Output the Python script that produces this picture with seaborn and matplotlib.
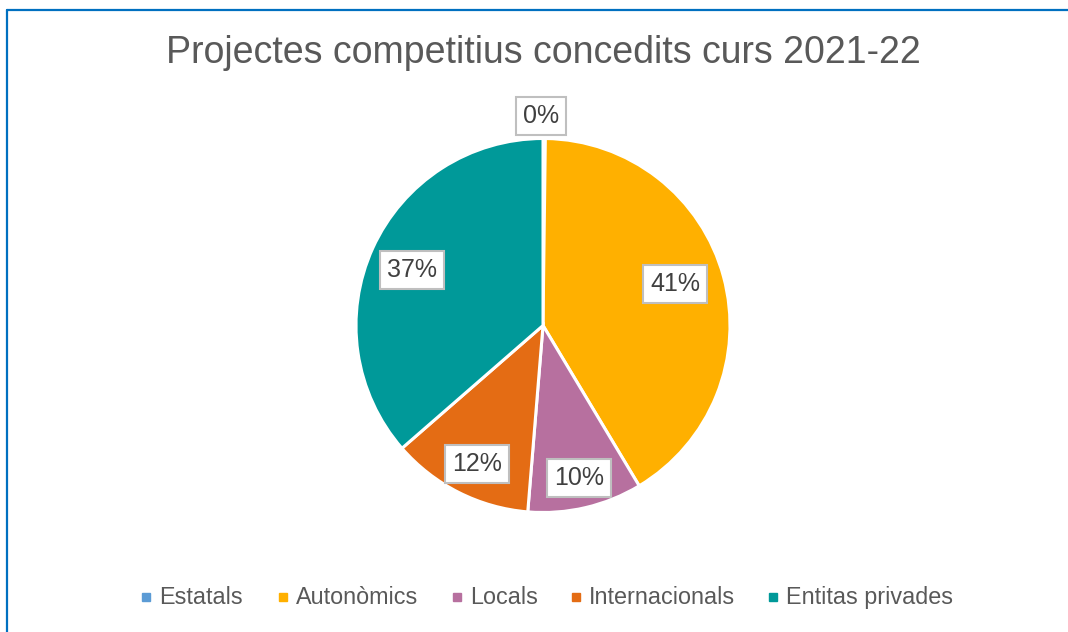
import numpy as np
import seaborn as sns
import matplotlib
matplotlib.use("Agg")
import matplotlib.pyplot as plt
from matplotlib.lines import Line2D

# data (percent of projects)
categories = ["Estatals", "Autonòmics", "Locals", "Internacionals", "Entitas privades"]
values = [0.2, 41.2, 9.9, 12.3, 36.4]
labels = ["0%", "41%", "10%", "12%", "37%"]

colors = ["#5B9BD5", "#FFB000", "#B7709F", "#E46C14", "#009999"]

sns.set_theme(style="white")
plt.rcParams['font.family'] = ['Liberation Sans', 'DejaVu Sans']

W, H = 1068, 632
fig = plt.figure(figsize=(W / 100, H / 100), dpi=100)

# pie axes placed in pixels: centre (543, 325), radius 187
cx, cy, r = 543, 325.5, 187
ax = fig.add_axes([(cx - r) / W, (H - cy - r) / H, 2 * r / W, 2 * r / H])

wedges, _ = ax.pie(values, colors=colors, startangle=90, counterclock=False,
                   radius=1, wedgeprops=dict(edgecolor="white", linewidth=2.2))
ax.set_xlim(-1, 1)
ax.set_ylim(-1, 1)
ax.set_aspect("equal")
ax.axis("off")

# data labels, Excel "best fit"-ish: distance from centre and small angle nudge
dists = [1.12, 0.74, 0.84, 0.82, 0.76]
nudge = [1.0, 2.5, 0.0, 1.5, 1.5]
for w, lab, d, n in zip(wedges, labels, dists, nudge):
    ang = np.deg2rad((w.theta1 + w.theta2) / 2 + n)
    ax.text(d * np.cos(ang), d * np.sin(ang), lab, ha="center", va="center",
            fontsize=18, color="#404040", clip_on=False,
            bbox=dict(boxstyle="square,pad=0.28", fc="white", ec="#BFBFBF", lw=1.5))

fig.text(543 / W, 1 - 53 / H, "Projectes competitius concedits curs 2021-22",
         ha="center", va="center", fontsize=27, color="#595959")

# legend laid out like the Excel one: square marker then label
leg_x = [146, 283, 457, 576, 773]
for x, c, name in zip(leg_x, colors, categories):
    fig.add_artist(Line2D([x / W], [1 - 597 / H], marker="s", markersize=5.5,
                          markerfacecolor=c, markeredgecolor=c, linestyle="none"))
    fig.text((x + 13) / W, 1 - 604 / H, name, ha="left", va="baseline",
             fontsize=16.8, color="#595959")

# chart frame (only top and left edges are visible in the crop)
fig.add_artist(Line2D([6.5 / W, 1], [1 - 9.5 / H, 1 - 9.5 / H], color="#0070C0", lw=1.6))
fig.add_artist(Line2D([6.5 / W, 6.5 / W], [0, 1 - 9.5 / H], color="#0070C0", lw=1.6))

fig.savefig("out.png", dpi=100, facecolor="white")
